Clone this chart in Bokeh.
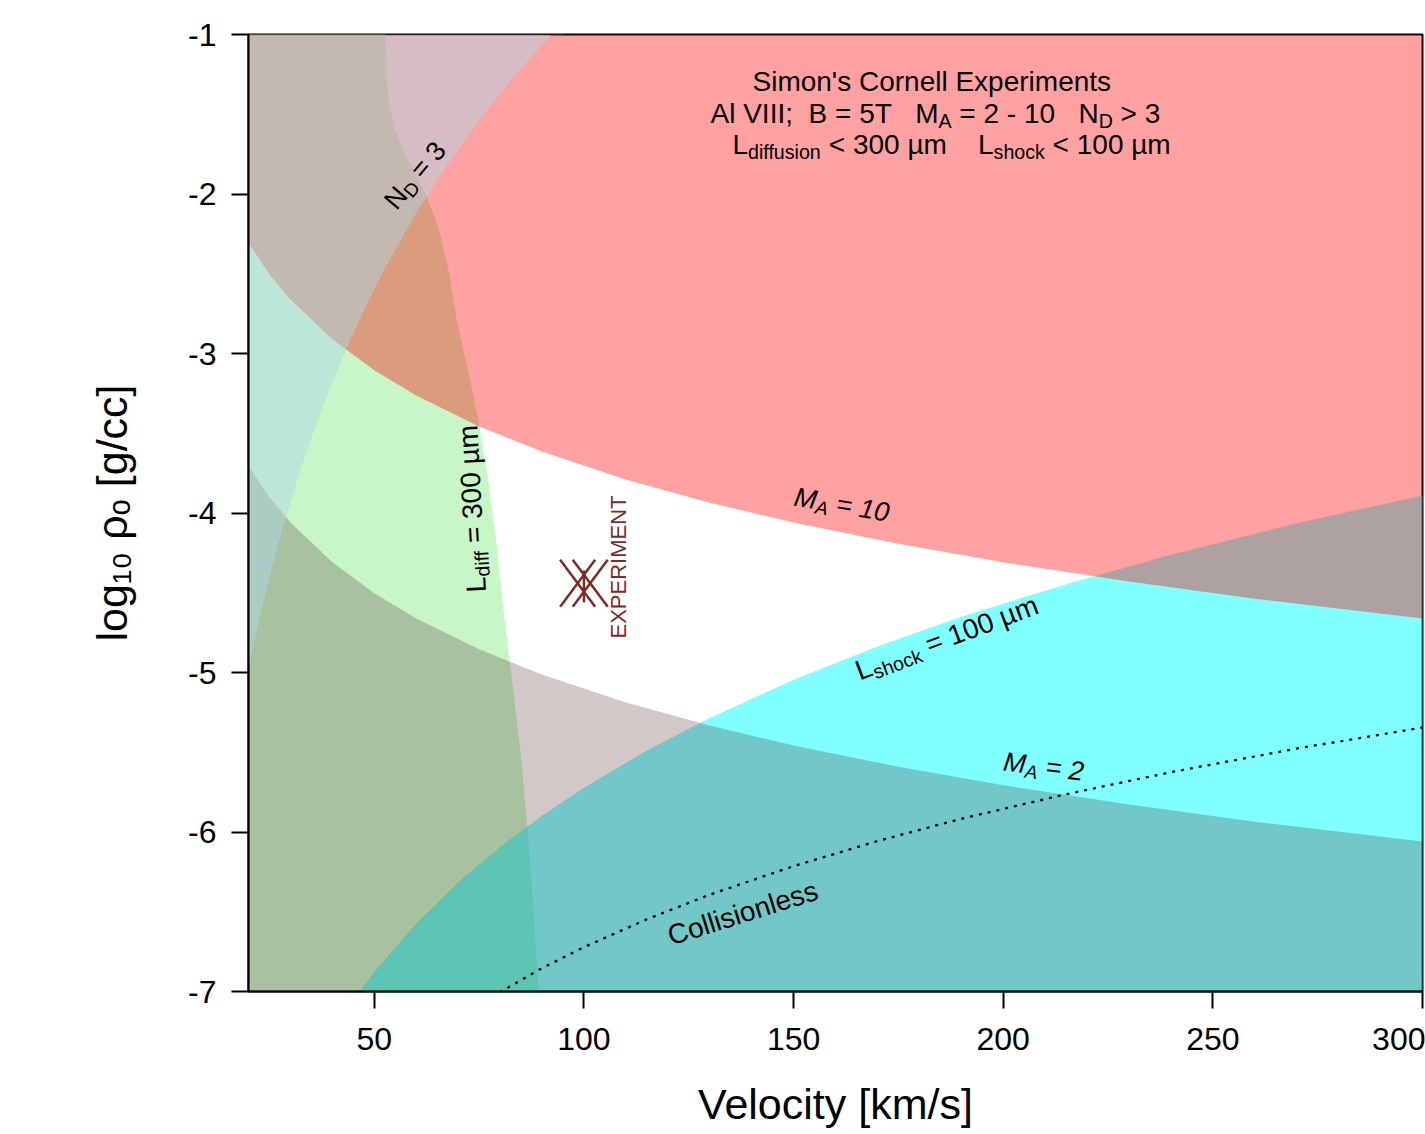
import math
from bokeh.plotting import figure
from bokeh.models import Label, FixedTicker, Range1d
from bokeh.embed import file_html
from bokeh.resources import INLINE

# ---- axes ----
x_min, x_max = 20, 300
y_min, y_max = -7, -1
x_ticks = [50, 100, 150, 200, 250, 300]
y_ticks = [-1, -2, -3, -4, -5, -6, -7]

# ---- boundary curves: velocity [km/s] vs log10 density [g/cc] ----
# Alfven Mach number M_A = 10 and M_A = 2
ma_v = [15, 20, 25, 30, 40, 50, 60, 75, 90, 110, 130, 150, 175, 200, 230, 260, 300, 320]
ma10_rho = [-2.059, -2.309, -2.503, -2.661, -2.911, -3.105, -3.263, -3.457, -3.615, -3.790,
            -3.935, -4.059, -4.193, -4.309, -4.430, -4.537, -4.661, -4.717]
ma2_rho = [-3.457, -3.707, -3.901, -4.059, -4.309, -4.503, -4.661, -4.855, -5.013, -5.188,
           -5.333, -5.457, -5.591, -5.707, -5.828, -5.935, -6.059, -6.115]
# Debye number N_D = 3
nd_v = [18, 20, 22, 25, 28, 32, 36, 40, 45, 50, 55, 60, 65, 70, 75, 80, 85, 90, 95]
nd_rho = [-5.258, -4.984, -4.736, -4.403, -4.107, -3.759, -3.452, -3.177, -2.871, -2.596,
          -2.348, -2.121, -1.913, -1.719, -1.539, -1.371, -1.214, -1.065, -0.924]
# magnetic diffusion length L_diff = 300 um
ldiff_rho = [-0.8, -1.0, -1.2, -1.4, -1.6, -1.8, -2.0, -2.2, -2.5, -2.8, -3.1, -3.4, -3.8,
             -4.2, -4.6, -5.0, -5.5, -6.0, -6.5, -7.0, -7.2]
ldiff_v = [52.6, 52.7, 52.9, 53.3, 54.9, 58.3, 62.2, 65.2, 67.9, 69.7, 72.3, 74.7, 77.2,
           79.2, 80.8, 82.6, 84.9, 86.6, 88.0, 89.2, 89.7]
# shock width L_shock = 100 um
lshock_v = [40, 45, 50, 60, 70, 80, 90, 100, 115, 130, 150, 170, 190, 215, 240, 270, 300, 320]
lshock_rho = [-7.250, -7.054, -6.878, -6.574, -6.317, -6.094, -5.898, -5.722, -5.489, -5.285,
              -5.046, -4.837, -4.651, -4.446, -4.262, -4.065, -3.890, -3.782]
# collisionless limit
coll_v = [78, 90, 100, 115, 130, 150, 170, 190, 215, 240, 270, 300]
coll_rho = [-7.033, -6.854, -6.722, -6.547, -6.393, -6.214, -6.057, -5.917, -5.763, -5.625,
            -5.477, -5.345]
# experiment operating point
exp_v = [98.5, 101.5]
exp_rho = [-4.44, -4.44]
exp_bar_v = [100, 100]
exp_bar_rho = [-4.36, -4.56]

# ---- layout ----
W, H = 1425, 1134
LEFT, RIGHT, TOP, BOTTOM = 248, 3, 34, 143
KX = (W - LEFT - RIGHT) / (x_max - x_min)
KY = (H - TOP - BOTTOM) / (y_max - y_min)
FONT = "Liberation Sans"
EXP_COLOR = "#7F2A2A"

p = figure(width=W, height=H, x_range=Range1d(x_min, x_max), y_range=Range1d(y_min, y_max),
           output_backend="svg", toolbar_location=None,
           min_border_left=LEFT, min_border_right=RIGHT,
           min_border_top=TOP, min_border_bottom=BOTTOM)
p.grid.visible = False
p.background_fill_color = "white"
p.border_fill_color = "white"
p.outline_line_color = "black"
p.outline_line_width = 2

for ax, ticks in ((p.xaxis, x_ticks), (p.yaxis, y_ticks)):
    ax.ticker = FixedTicker(ticks=ticks)
    ax.major_label_overrides = {t: str(t) for t in ticks}
    ax.major_tick_in = 0
    ax.major_tick_out = 17
    ax.minor_tick_line_color = None
    ax.axis_line_width = 2
    ax.major_tick_line_width = 2
    ax.major_label_text_font = FONT
    ax.major_label_text_font_size = "32px"
    ax.major_label_text_color = "black"
    ax.axis_label_text_font = FONT
    ax.axis_label_text_font_size = "43px"
    ax.axis_label_text_font_style = "normal"
    ax.axis_label_text_color = "black"

p.xaxis.major_label_standoff = 19
p.yaxis.major_label_standoff = 15
p.xaxis.axis_label = "Velocity [km/s]"
p.xaxis.axis_label_standoff = 27
p.yaxis.axis_label = "log\u2081\u2080 \u03c1\u2092 [g/cc]"
p.yaxis.axis_label_standoff = 49

# ---- shaded regions ----
p.harea(y=ldiff_rho, x1=x_min, x2=ldiff_v, fill_color="#90EE90", fill_alpha=0.5)
p.varea(x=lshock_v, y1=y_min, y2=lshock_rho, fill_color="#00FFFF", fill_alpha=0.5)
p.varea(x=ma_v, y1=y_min, y2=ma2_rho, fill_color="#4B2323", fill_alpha=0.25)
p.varea(x=ma_v, y1=ma10_rho, y2=y_max, fill_color="#FF0000", fill_alpha=0.37)
p.varea(x=nd_v, y1=nd_rho, y2=y_max, fill_color="#ADD8E6", fill_alpha=0.5)

p.line(coll_v, coll_rho, line_color="black", line_width=2.3, line_dash="3 6")

# experiment symbol: a pair of crosses with a short vertical bar
HW, HH = 17.5 / KX, 23.5 / KY
x0s, y0s, x1s, y1s = [], [], [], []
for v, r in zip(exp_v, exp_rho):
    x0s += [v - HW, v - HW]
    y0s += [r + HH, r - HH]
    x1s += [v + HW, v + HW]
    y1s += [r - HH, r + HH]
p.segment(x0=x0s, y0=y0s, x1=x1s, y1=y1s, line_color=EXP_COLOR, line_width=2.5)
p.line(exp_bar_v, exp_bar_rho, line_color=EXP_COLOR, line_width=2.5)

# ---- text with subscripts, laid out word by word ----
ADV = {' ': 278, "'": 191, ';': 278, '=': 584, '<': 584, '>': 584, '-': 333, '/': 278,
       '[': 278, ']': 278, 'A': 667, 'B': 667, 'C': 722, 'D': 722, 'E': 667, 'I': 278,
       'L': 556, 'M': 833, 'N': 722, 'P': 667, 'R': 722, 'S': 667, 'T': 611, 'V': 667,
       'X': 667, 'a': 556, 'c': 500, 'd': 556, 'e': 556, 'f': 278, 'g': 556, 'h': 556,
       'i': 222, 'k': 500, 'l': 222, 'm': 833, 'n': 556, 'o': 556, 'p': 556, 'r': 333,
       's': 500, 't': 278, 'u': 556, 'x': 500, 'y': 500, 'µ': 576}
for dgt in "0123456789":
    ADV[dgt] = 556


def to_data(px, py):
    return x_min + (px - LEFT) / KX, y_max - (py - TOP) / KY


def text_runs(px, py, runs, size, angle_deg=0.0, color="black", style="normal",
              sub_scale=0.7, sub_drop=0.25):
    th = math.radians(angle_deg)
    ux, uy = math.cos(th), -math.sin(th)
    nx, ny = math.sin(th), math.cos(th)
    s = 0.0

    def emit(word, s_at, fs, d):
        sx = px + s_at * ux + d * nx
        sy = py + s_at * uy + d * ny
        x, y = to_data(sx, sy)
        p.add_layout(Label(x=x, y=y, text=word, angle=th, text_font=FONT,
                           text_font_size=f"{fs:.1f}px", text_font_style=style,
                           text_color=color, text_align="left",
                           text_baseline="alphabetic"))

    for txt, sub in runs:
        fs = size * sub_scale if sub else size
        d = size * sub_drop if sub else 0.0
        word, start = "", s
        for ch in txt:
            if ch == " ":
                if word:
                    emit(word, start, fs, d)
                    word = ""
                s += ADV[" "] * fs / 1000
            else:
                if not word:
                    start = s
                word += ch
                s += ADV.get(ch, 556) * fs / 1000
        if word:
            emit(word, start, fs, d)


# heading
text_runs(752, 81, [("Simon's Cornell Experiments", False)], 28)
text_runs(710, 113, [("Al VIII;  B = 5T   M", False), ("A", True), (" = 2 - 10   N", False),
                     ("D", True), (" > 3", False)], 28)
text_runs(732, 144, [("L", False), ("diffusion", True), (" < 300 µm    L", False),
                     ("shock", True), (" < 100 µm", False)], 28)

# curve labels
text_runs(389, 205, [("N", False), ("D", True), (" = 3", False)], 27, angle_deg=50)
text_runs(476, 592, [("L", False), ("diff", True), (" = 300 µm", False)], 28, angle_deg=93)
text_runs(794, 496, [("M", False), ("A", True), (" = 10", False)], 27, angle_deg=-9.5,
          style="italic")
text_runs(856, 671, [("L", False), ("shock", True), (" = 100 µm", False)], 28, angle_deg=20.5)
text_runs(1003, 761, [("M", False), ("A", True), (" = 2", False)], 27, angle_deg=-7,
          style="italic")
text_runs(668, 936, [("Collisionless", False)], 28, angle_deg=17.5)
text_runs(618, 638, [("EXPERIMENT", False)], 22, angle_deg=90, color=EXP_COLOR)

open("out.html", "w").write(file_html(p, INLINE))
